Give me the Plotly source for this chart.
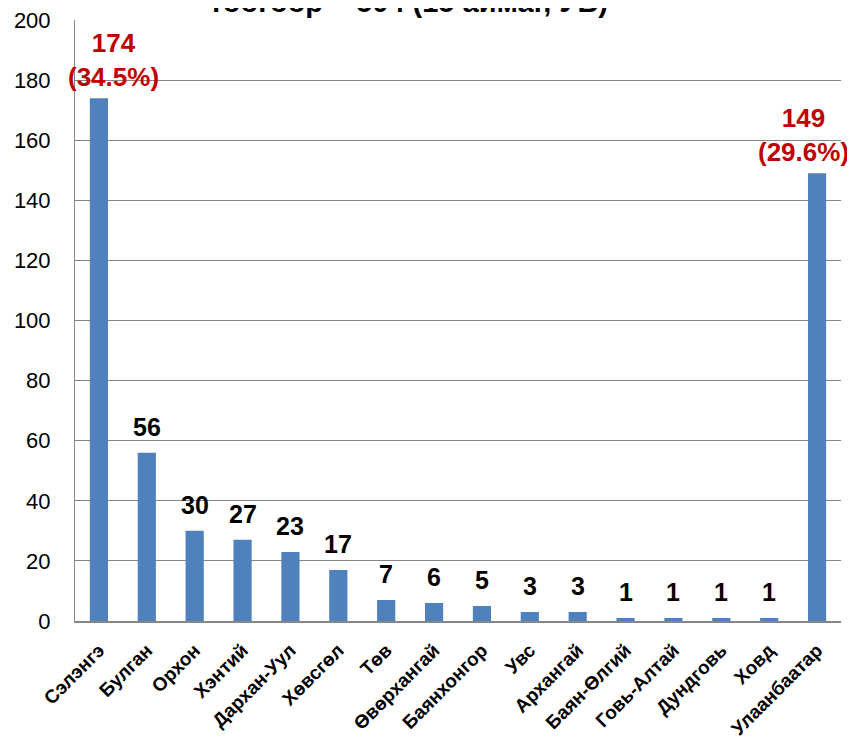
import plotly.graph_objects as go

categories = ["Сэлэнгэ", "Булган", "Орхон", "Хэнтий", "Дархан-Уул", "Хөвсгөл", "Төв",
              "Өвөрхангай", "Баянхонгор", "Увс", "Архангай", "Баян-Өлгий", "Говь-Алтай",
              "Дундговь", "Ховд", "Улаанбаатар"]
values = [174, 56, 30, 27, 23, 17, 7, 6, 5, 3, 3, 1, 1, 1, 1, 149]
total = sum(values)
highlight = {"Сэлэнгэ", "Улаанбаатар"}
title_text = "тоогоор = 504 (15 аймаг, УБ)"
y_ticks = [0, 20, 40, 60, 80, 100, 120, 140, 160, 180, 200]

FONT = "Liberation Sans, Arial"
# horizontal nudges keeping the wide red labels inside the chart (style only)
label_xshift = {"Сэлэнгэ": 15, "Улаанбаатар": -14}

fig = go.Figure(go.Bar(
    x=categories, y=values,
    marker=dict(color="#4F81BD", line=dict(width=0)),
    hoverinfo="x+y",
))

for c, v in zip(categories, values):
    if c in highlight:
        txt = f"<b>{v}<br>({v / total * 100:.1f}%)</b>"
        col, size, shift = "#C00000", 26, 4
    else:
        txt = f"<b>{v}</b>"
        col, size, shift = "black", 25, 10
    fig.add_annotation(
        x=c, y=v, xref="x", yref="y", text=txt, showarrow=False,
        yanchor="bottom", yshift=shift, xshift=label_xshift.get(c, 0),
        font=dict(family=FONT, size=size, color=col),
    )

fig.add_annotation(
    text=f"<b>{title_text}</b>", xref="paper", yref="paper", x=0.435, y=1.0,
    xanchor="center", yanchor="bottom", showarrow=False, yshift=0,
    font=dict(family=FONT, size=29, color="black"),
)

# page body has an 8px margin, so figure is sized to the visible area
fig.update_layout(
    width=847, height=733,
    margin=dict(l=67, r=14, t=12, b=120, autoexpand=False),
    paper_bgcolor="white", plot_bgcolor="white",
    bargap=0.62, showlegend=False,
    font=dict(family=FONT),
)
fig.update_yaxes(
    range=[0, 200], tickvals=y_ticks, showgrid=True, gridcolor="#868686", gridwidth=1,
    showline=True, linecolor="#868686", linewidth=1, ticks="",
    tickfont=dict(family=FONT, size=22, color="black"), zeroline=False,
    automargin=False, ticklabelstandoff=19, ticklabeloverflow="allow",
)
fig.update_xaxes(
    range=[-0.5, len(categories) - 0.5], autorange=False,
    showline=True, linecolor="#868686", linewidth=1.5, tickangle=-45,
    tickfont=dict(family=FONT, size=19, color="black"),
    ticks="", automargin=False, ticklabelstandoff=9, ticklabeloverflow="allow",
    ticktext=[f"<b>{c}</b>" for c in categories], tickvals=categories,
)

fig.write_html("out.html")
